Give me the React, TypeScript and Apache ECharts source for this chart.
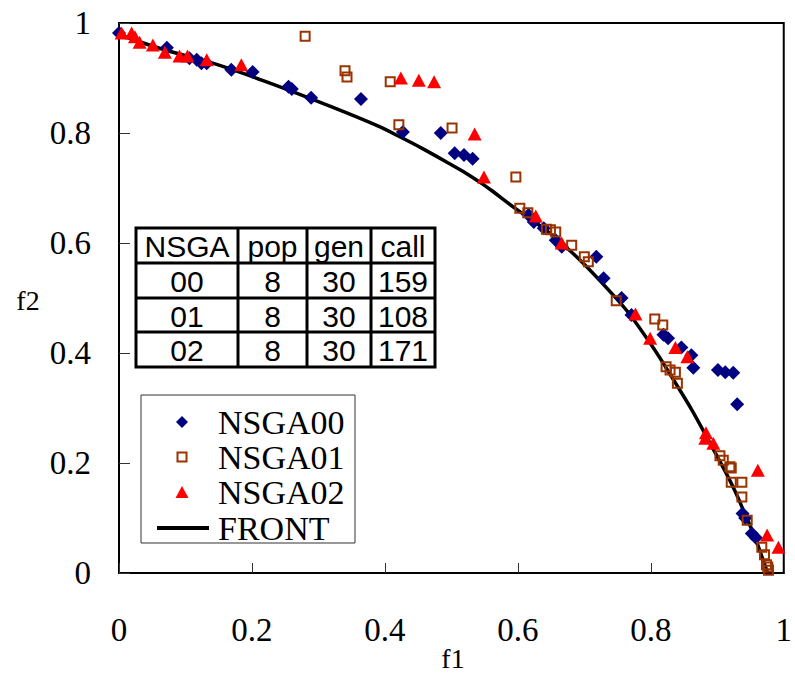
import React, { useEffect, useRef } from 'react';
import * as echarts from 'echarts';

const xTicks = [0, 0.2, 0.4, 0.6, 0.8, 1];
const yTicks = [0, 0.2, 0.4, 0.6, 0.8, 1];

const nsga00: number[][] = [
  [0.0, 0.982], [0.072, 0.955], [0.106, 0.936], [0.117, 0.933], [0.124, 0.927], [0.132, 0.927],
  [0.169, 0.915], [0.201, 0.911], [0.255, 0.884], [0.260, 0.880], [0.289, 0.864], [0.364, 0.862],
  [0.427, 0.802], [0.484, 0.800], [0.505, 0.763], [0.519, 0.760], [0.532, 0.753], [0.616, 0.651],
  [0.624, 0.638], [0.639, 0.627], [0.657, 0.605], [0.666, 0.593], [0.718, 0.575], [0.729, 0.536],
  [0.756, 0.500], [0.771, 0.469], [0.819, 0.433], [0.826, 0.427], [0.846, 0.410], [0.861, 0.396],
  [0.864, 0.373], [0.901, 0.369], [0.912, 0.365], [0.924, 0.364], [0.930, 0.307], [0.938, 0.108],
  [0.942, 0.100], [0.952, 0.072], [0.958, 0.064],
];

const nsga01: number[][] = [
  [0.280, 0.976], [0.340, 0.913], [0.343, 0.902], [0.408, 0.893], [0.421, 0.815], [0.501, 0.809],
  [0.597, 0.720], [0.603, 0.663], [0.615, 0.655], [0.643, 0.625], [0.649, 0.624], [0.657, 0.620],
  [0.681, 0.596], [0.700, 0.575], [0.706, 0.566], [0.748, 0.495], [0.806, 0.462], [0.818, 0.451],
  [0.823, 0.375], [0.829, 0.369], [0.837, 0.365], [0.840, 0.345], [0.904, 0.213], [0.909, 0.205],
  [0.919, 0.193], [0.921, 0.191], [0.921, 0.165], [0.937, 0.165], [0.937, 0.138], [0.945, 0.096],
  [0.967, 0.047], [0.971, 0.033], [0.974, 0.015], [0.976, 0.011], [0.977, 0.005],
];

const nsga02: number[][] = [
  [0.004, 0.982], [0.019, 0.982], [0.024, 0.975], [0.031, 0.965], [0.051, 0.960], [0.069, 0.947],
  [0.091, 0.940], [0.103, 0.940], [0.132, 0.933], [0.184, 0.924], [0.424, 0.900], [0.451, 0.896],
  [0.474, 0.893], [0.535, 0.798], [0.549, 0.720], [0.627, 0.649], [0.666, 0.600], [0.777, 0.471],
  [0.799, 0.427], [0.837, 0.410], [0.855, 0.393], [0.883, 0.255], [0.882, 0.245], [0.894, 0.236],
  [0.961, 0.187], [0.975, 0.069], [0.992, 0.047],
];

const front: number[][] = [
  [0, 0.98], [0.021, 0.970], [0.072, 0.950], [0.141, 0.927], [0.222, 0.893], [0.321, 0.847],
  [0.391, 0.812], [0.421, 0.794], [0.456, 0.772], [0.496, 0.745], [0.522, 0.727], [0.546, 0.708],
  [0.561, 0.695], [0.596, 0.663], [0.646, 0.620], [0.696, 0.566], [0.746, 0.502], [0.771, 0.466],
  [0.808, 0.402], [0.821, 0.377], [0.861, 0.298], [0.886, 0.243], [0.911, 0.187], [0.927, 0.148],
  [0.940, 0.112], [0.957, 0.064], [0.970, 0.020], [0.976, 0],
];

const tableHeader = ['NSGA', 'pop', 'gen', 'call'];
const tableRows = [
  ['00', '8', '30', '159'],
  ['01', '8', '30', '108'],
  ['02', '8', '30', '171'],
];

const seriesNames = ['NSGA00', 'NSGA01', 'NSGA02', 'FRONT'];
const colors = ['#000080', '#993300', '#FF0000', '#000000'];

const SERIF = '"Liberation Serif", "Times New Roman", serif';
const SANS = '"Liberation Sans", Arial, sans-serif';

function buildTable(): any[] {
  const colX = [136, 238, 307, 371, 435];
  const rowY = [228, 263, 298, 332, 367];
  const els: any[] = [];
  els.push({
    type: 'rect',
    shape: { x: colX[0], y: rowY[0], width: colX[4] - colX[0], height: rowY[4] - rowY[0] },
    style: { fill: '#fff', stroke: '#000', lineWidth: 3 },
    z: 10,
  });
  for (let i = 1; i < colX.length - 1; i++) {
    els.push({
      type: 'line',
      shape: { x1: colX[i], y1: rowY[0], x2: colX[i], y2: rowY[4] },
      style: { stroke: '#000', lineWidth: 3 },
      z: 11,
    });
  }
  for (let j = 1; j < rowY.length - 1; j++) {
    els.push({
      type: 'line',
      shape: { x1: colX[0], y1: rowY[j], x2: colX[4], y2: rowY[j] },
      style: { stroke: '#000', lineWidth: 3 },
      z: 11,
    });
  }
  const rows = [tableHeader, ...tableRows];
  rows.forEach((row, j) => {
    row.forEach((cell, i) => {
      els.push({
        type: 'text',
        x: (colX[i] + colX[i + 1]) / 2,
        y: (rowY[j] + rowY[j + 1]) / 2 + 1,
        style: {
          text: cell,
          fontFamily: SANS,
          fontSize: 30,
          fill: '#000',
          textAlign: 'center',
          textVerticalAlign: 'middle',
        },
        z: 12,
      });
    });
  });
  return els;
}

function buildLegend(): any[] {
  const els: any[] = [];
  els.push({
    type: 'rect',
    shape: { x: 141, y: 395, width: 214, height: 148 },
    style: { fill: '#fff', stroke: '#333', lineWidth: 1 },
    z: 10,
  });
  const ys = [422, 457, 492, 528];
  const sx = 182;
  els.push({
    type: 'polygon',
    shape: { points: [[sx, ys[0] - 6], [sx + 6, ys[0]], [sx, ys[0] + 6], [sx - 6, ys[0]]] },
    style: { fill: colors[0] },
    z: 11,
  });
  els.push({
    type: 'rect',
    shape: { x: sx - 4.5, y: ys[1] - 4.5, width: 9, height: 9 },
    style: { fill: 'none', stroke: colors[1], lineWidth: 2 },
    z: 11,
  });
  els.push({
    type: 'polygon',
    shape: { points: [[sx, ys[2] - 6], [sx + 6.5, ys[2] + 6], [sx - 6.5, ys[2] + 6]] },
    style: { fill: colors[2] },
    z: 11,
  });
  els.push({
    type: 'line',
    shape: { x1: 157, y1: ys[3], x2: 209, y2: ys[3] },
    style: { stroke: colors[3], lineWidth: 4 },
    z: 11,
  });
  seriesNames.forEach((name, i) => {
    els.push({
      type: 'text',
      x: 218,
      y: ys[i],
      style: {
        text: name,
        fontFamily: SERIF,
        fontSize: 34,
        fill: '#000',
        textAlign: 'left',
        textVerticalAlign: 'middle',
      },
      z: 12,
    });
  });
  return els;
}

export default function App() {
  const ref = useRef<HTMLDivElement>(null);

  useEffect(() => {
    document.body.style.margin = '0';
    if (!ref.current) return;
    const chart = echarts.init(ref.current, undefined, { renderer: 'svg' });
    const axisLabelStyle = { color: '#000', fontFamily: SERIF, fontSize: 33 };
    chart.setOption({
      animation: false,
      backgroundColor: '#fff',
      grid: {
        left: 119,
        right: 9,
        top: 23,
        bottom: 102,
        show: true,
        borderColor: '#000',
        borderWidth: 2,
        backgroundColor: 'transparent',
      },
      xAxis: {
        type: 'value',
        min: xTicks[0],
        max: xTicks[xTicks.length - 1],
        interval: 0.2,
        splitLine: { show: false },
        axisLine: { show: true, lineStyle: { color: '#000', width: 2 } },
        axisTick: { show: true, inside: true, length: 10, lineStyle: { color: '#333', width: 1 } },
        axisLabel: { ...axisLabelStyle, margin: 40 },
      },
      yAxis: {
        type: 'value',
        min: yTicks[0],
        max: yTicks[yTicks.length - 1],
        interval: 0.2,
        splitLine: { show: false },
        axisLine: { show: true, lineStyle: { color: '#000', width: 2 } },
        axisTick: { show: true, inside: true, length: 11, lineStyle: { color: '#333', width: 1 } },
        axisLabel: { ...axisLabelStyle, margin: 28 },
      },
      series: [
        {
          name: seriesNames[3],
          type: 'line',
          data: front,
          symbol: 'none',
          smooth: 0.3,
          lineStyle: { color: colors[3], width: 3.5 },
          z: 1,
        },
        {
          name: seriesNames[0],
          type: 'scatter',
          data: nsga00,
          symbol: 'diamond',
          symbolSize: 14,
          itemStyle: { color: colors[0], opacity: 1 },
          z: 2,
        },
        {
          name: seriesNames[1],
          type: 'scatter',
          data: nsga01,
          symbol: 'rect',
          symbolSize: 9,
          itemStyle: { color: 'rgba(255,255,255,0)', borderColor: colors[1], borderWidth: 2, opacity: 1 },
          z: 3,
        },
        {
          name: seriesNames[2],
          type: 'scatter',
          data: nsga02,
          symbol: 'triangle',
          symbolSize: [14, 13],
          itemStyle: { color: colors[2], opacity: 1 },
          z: 4,
        },
      ],
      graphic: [
        ...buildTable(),
        ...buildLegend(),
        {
          type: 'text',
          x: 453,
          y: 658,
          style: {
            text: 'f1',
            fontFamily: SERIF,
            fontSize: 28,
            fill: '#000',
            textAlign: 'center',
            textVerticalAlign: 'middle',
          },
        },
        {
          type: 'text',
          x: 28,
          y: 300,
          style: {
            text: 'f2',
            fontFamily: SERIF,
            fontSize: 28,
            fill: '#000',
            textAlign: 'center',
            textVerticalAlign: 'middle',
          },
        },
      ],
    });
    return () => chart.dispose();
  }, []);

  return <div ref={ref} style={{ width: 795, height: 675 }} />;
}
